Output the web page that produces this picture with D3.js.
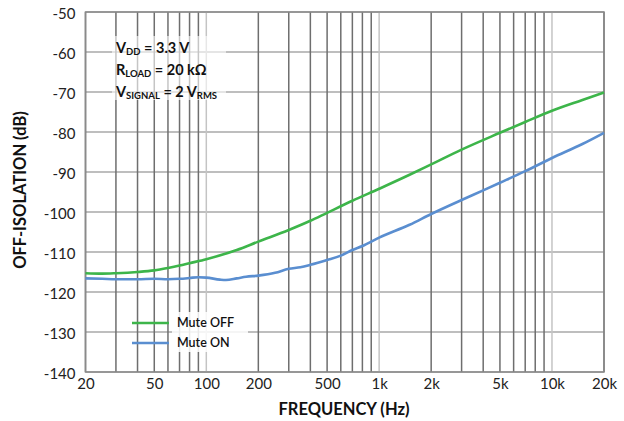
<!DOCTYPE html>
<html><head><meta charset="utf-8">
<script src="https://cdn.jsdelivr.net/npm/d3@7"></script>
<style>body{margin:0;background:#fff}svg{display:block}</style>
</head><body><svg id="c" width="624" height="421"></svg>
<script>
const xTickValues = [20, 50, 100, 200, 500, 1000, 2000, 5000, 10000, 20000];
const xTickLabels = ["20", "50", "100", "200", "500", "1k", "2k", "5k", "10k", "20k"];
const yTickValues = [-50, -60, -70, -80, -90, -100, -110, -120, -130, -140];
const yTickLabels = ["-50", "-60", "-70", "-80", "-90", "-100", "-110", "-120", "-130", "-140"];
const freqOff = [20, 25, 30, 40, 50, 60, 70, 80, 100, 150, 200, 300, 400, 500, 700, 1000, 1500, 2000, 3000, 5000, 7000, 10000, 15000, 20000];
const muteOff = [-115.3, -115.4, -115.3, -115.0, -114.6, -114.0, -113.4, -112.8, -111.8, -109.5, -107.4, -104.5, -102.2, -100.2, -97.2, -94.2, -90.7, -88.1, -84.4, -80.2, -77.5, -74.7, -72.0, -70.1];
const freqOn = [20, 25, 30, 40, 50, 60, 70, 80, 90, 100, 120, 130, 150, 170, 200, 250, 300, 350, 400, 500, 600, 700, 800, 1000, 1500, 2000, 3000, 4000, 5000, 7000, 10000, 15000, 20000];
const muteOn = [-116.6, -116.7, -116.8, -116.8, -116.7, -116.8, -116.7, -116.5, -116.3, -116.4, -116.9, -117.0, -116.6, -116.2, -115.9, -115.2, -114.2, -113.8, -113.2, -112.0, -110.9, -109.5, -108.5, -106.4, -103.2, -100.5, -97.0, -94.6, -92.7, -89.8, -86.5, -83.0, -80.2];
const seriesNames = ["Mute OFF", "Mute ON"];
const seriesColors = ["#3db54a", "#5a8ed0"];

const svg = d3.select("#c");
const L = 85.5, R = 604, T = 12, B = 372;
const x = d3.scaleLog().domain([20, 20000]).range([L, R]);
const y = d3.scaleLinear().domain([-140, -50]).range([B, T]);

// grid lines
const minor = [];
[10, 100, 1000, 10000].forEach(d => { for (let k = 1; k <= 9; k++) { const v = d * k; if (v >= 20 && v <= 20000) minor.push(v); } });
svg.append("g").selectAll("line").data(yTickValues).join("line")
  .attr("x1", L).attr("x2", R).attr("y1", d => y(d)).attr("y2", d => y(d))
  .attr("stroke", "#a8a8a8").attr("stroke-width", 1.3);
svg.append("g").selectAll("line").data(minor).join("line")
  .attr("x1", d => x(d)).attr("x2", d => x(d)).attr("y1", T).attr("y2", B)
  .attr("stroke", d => [100, 1000, 10000].includes(d) ? "#c4c4c4" : "#6e6e6e")
  .attr("stroke-width", 1.5);
svg.append("rect").attr("x", L).attr("y", T).attr("width", R - L).attr("height", B - T)
  .attr("fill", "none").attr("stroke", "#8a8a8a").attr("stroke-width", 1.5);

// annotation / legend backgrounds
svg.append("rect").attr("x", 112).attr("y", 36).attr("width", 114).attr("height", 64)
  .attr("fill", "#fff").attr("opacity", 0.6);
svg.append("rect").attr("x", 172).attr("y", 312).attr("width", 76).attr("height", 40)
  .attr("fill", "#fff").attr("opacity", 0.85);

// axes labels
const fontFam = "Lato, 'Open Sans', sans-serif";
const xAxis = d3.axisBottom(x).tickValues(xTickValues).tickFormat((d, i) => xTickLabels[i]).tickSize(0).tickPadding(6);
const gx = svg.append("g").attr("transform", `translate(0,${B})`).call(xAxis);
gx.select(".domain").remove();
gx.selectAll("text").attr("font-family", fontFam).attr("font-size", 15).attr("fill", "#222");
const yAxis = d3.axisLeft(y).tickValues(yTickValues).tickFormat((d, i) => yTickLabels[i]).tickSize(0).tickPadding(10);
const gy = svg.append("g").attr("transform", `translate(${L},0)`).call(yAxis);
gy.select(".domain").remove();
gy.selectAll("text").attr("font-family", fontFam).attr("font-size", 15).attr("fill", "#222").attr("dy", "0.42em");

svg.append("text").attr("x", 344).attr("y", 415).attr("text-anchor", "middle")
  .attr("font-family", fontFam).attr("font-weight", "bold").attr("font-size", 16.5).attr("fill", "#111")
  .text("FREQUENCY (Hz)");
svg.append("text").attr("transform", "translate(26,190) rotate(-90)").attr("text-anchor", "middle")
  .attr("font-family", fontFam).attr("font-weight", "bold").attr("font-size", 16.5).attr("fill", "#111")
  .text("OFF-ISOLATION (dB)");

// lines
const line = d3.line().x(d => x(d[0])).y(d => y(d[1])).curve(d3.curveMonotoneX);
const datasets = [d3.zip(freqOff, muteOff), d3.zip(freqOn, muteOn)];
datasets.forEach((ds, i) => {
  svg.append("path").datum(ds).attr("d", line).attr("fill", "none")
    .attr("stroke", seriesColors[i]).attr("stroke-width", 2.6);
});

// annotation
const ann = svg.append("g").attr("font-family", fontFam).attr("font-weight", "bold").attr("font-size", 14.5).attr("fill", "#111");
const annLines = [["V", "DD", " = 3.3 V", ""], ["R", "LOAD", " = 20 kΩ", ""], ["V", "SIGNAL", " = 2 V", "RMS"]];
annLines.forEach((a, i) => {
  const t = ann.append("text").attr("x", 116).attr("y", 53 + i * 22);
  t.append("tspan").text(a[0]);
  t.append("tspan").attr("font-size", 9.5).attr("dy", 2).text(a[1]);
  t.append("tspan").attr("dy", -2).text(a[2]);
  if (a[3]) t.append("tspan").attr("font-size", 9.5).attr("dy", 2).text(a[3]);
});

// legend
const leg = svg.append("g");
seriesNames.forEach((n, i) => {
  const yy = 323 + i * 20;
  leg.append("line").attr("x1", 132).attr("x2", 169).attr("y1", yy).attr("y2", yy)
    .attr("stroke", seriesColors[i]).attr("stroke-width", 2.6);
  leg.append("text").attr("x", 177).attr("y", yy).attr("dy", "0.35em")
    .attr("font-family", fontFam).attr("font-weight", "600").attr("font-size", 12.5).attr("fill", "#111").text(n);
});
</script></body></html>
